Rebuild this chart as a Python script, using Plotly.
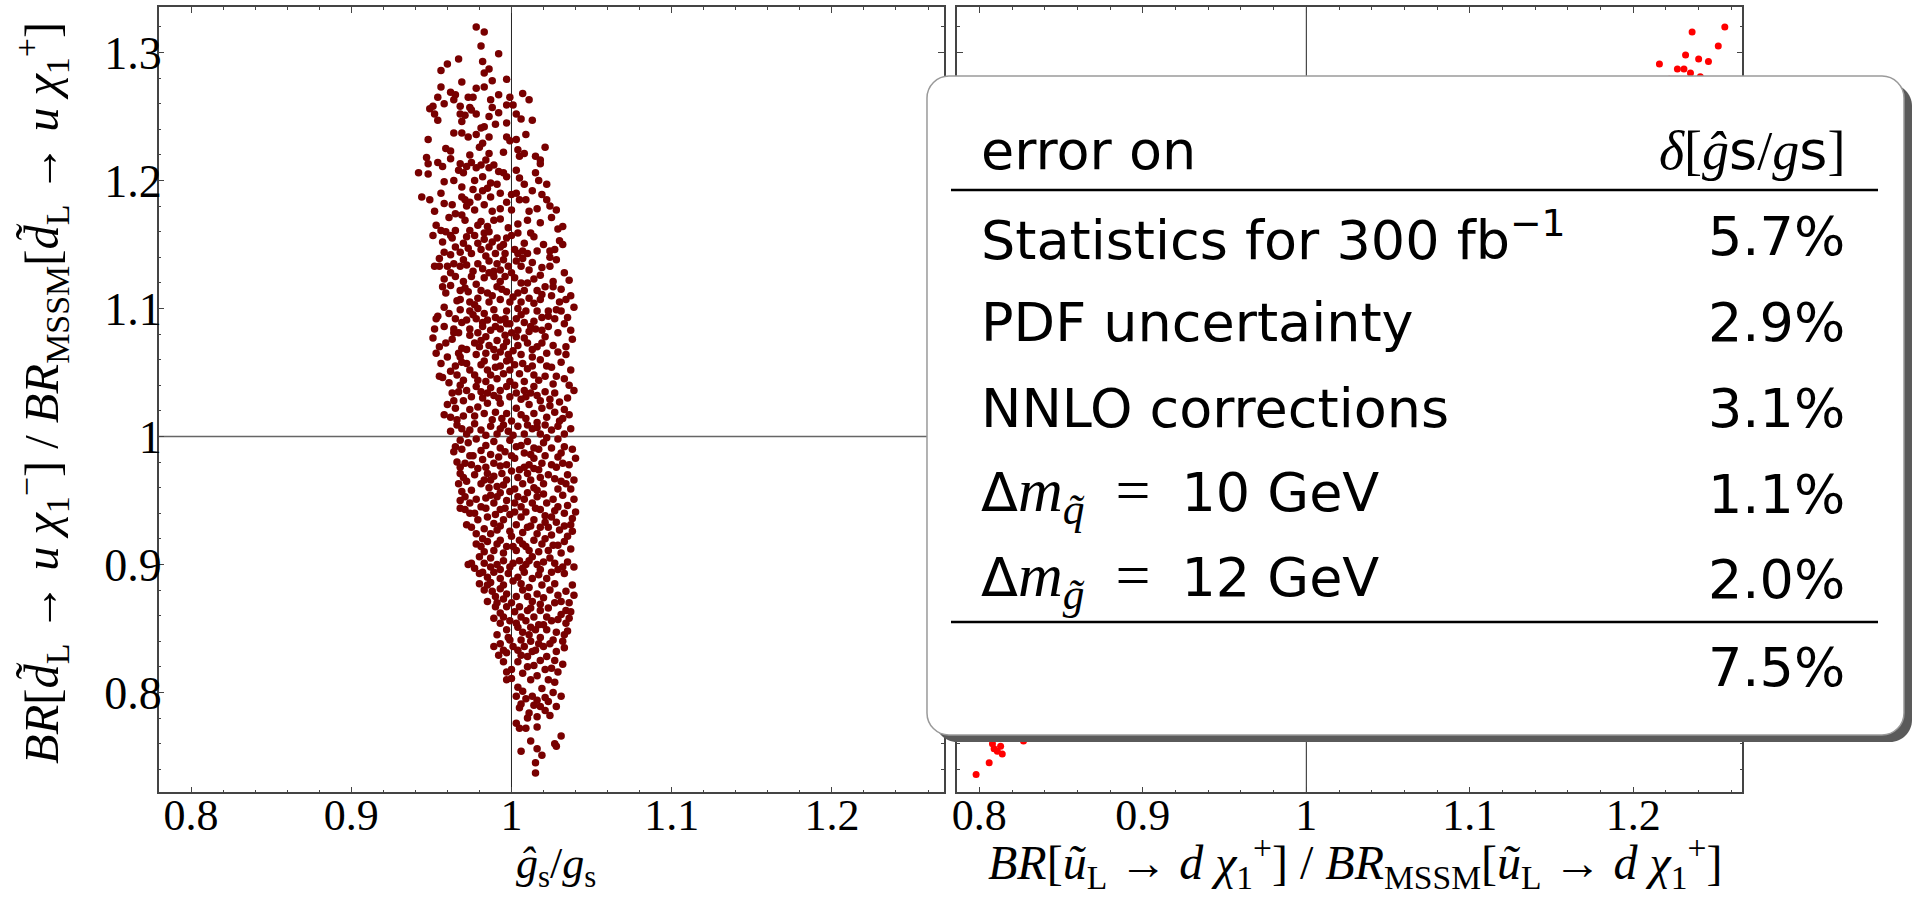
import plotly.graph_objects as go

W, H = 1919, 901

# ---------------- data ----------------
# left panel: (g_s-hat / g_s , BR ratio for d~_L)
left_points = [
 (0.978,1.320),(0.983,1.316),(0.981,1.305),(0.992,1.299),(0.967,1.295),(0.982,1.293),(0.960,1.291),(0.956,1.286),(0.986,1.287),(0.983,1.284),
 (0.969,1.277),(0.988,1.278),(0.997,1.279),(0.956,1.273),(0.978,1.272),(0.983,1.273),(0.962,1.269),(0.965,1.267),(0.973,1.265),(0.976,1.265),
 (0.954,1.265),(0.992,1.267),(0.999,1.265),(1.007,1.268),(1.011,1.263),(0.958,1.260),(0.964,1.263),(0.987,1.263),(0.949,1.256),(0.951,1.258),
 (0.968,1.258),(0.974,1.257),(0.988,1.257),(0.997,1.259),(1.001,1.259),(0.952,1.252),(0.954,1.247),(0.968,1.252),(0.969,1.246),(0.971,1.251),
 (0.975,1.255),(0.978,1.252),(0.986,1.250),(0.992,1.253),(1.003,1.252),(1.006,1.248),(1.013,1.247),(0.983,1.242),(0.981,1.241),(0.990,1.244),
 (0.997,1.245),(0.964,1.237),(0.969,1.237),(0.973,1.234),(0.978,1.236),(0.986,1.234),(0.997,1.234),(1.009,1.236),(1.003,1.232),(0.948,1.232),
 (0.959,1.225),(0.962,1.223),(0.999,1.231),(0.980,1.226),(0.982,1.229),(1.021,1.226),(1.004,1.224),(1.005,1.219),(1.008,1.221),(0.974,1.220),
 (0.986,1.221),(0.995,1.222),(1.015,1.219),(1.018,1.216),(1.018,1.213),(0.947,1.218),(0.948,1.213),(0.954,1.214),(0.957,1.211),(0.962,1.217),
 (0.968,1.213),(0.967,1.208),(0.970,1.206),(0.972,1.211),(0.975,1.214),(0.978,1.210),(0.981,1.212),(0.984,1.216),(0.986,1.210),(0.989,1.212),
 (0.992,1.207),(0.995,1.206),(0.997,1.203),(0.942,1.206),(0.948,1.205),(0.958,1.199),(0.964,1.200),(0.977,1.200),(0.982,1.203),(0.987,1.198),
 (1.003,1.208),(1.005,1.202),(1.015,1.206),(1.017,1.200),(1.022,1.197),(0.944,1.187),(0.949,1.185),(0.958,1.182),(0.969,1.195),(0.969,1.187),
 (0.971,1.185),(0.974,1.183),(0.972,1.180),(0.979,1.187),(0.982,1.192),(0.985,1.194),(0.987,1.187),(0.983,1.181),(0.993,1.190),(1.000,1.189),
 (1.003,1.190),(1.005,1.185),(1.009,1.185),(1.019,1.189),(1.022,1.185),(1.016,1.178),(1.028,1.177),(0.993,1.178),(1.000,1.177),(0.969,1.173),
 (0.965,1.174),(0.961,1.171),(0.971,1.169),(0.981,1.168),(0.979,1.165),(0.985,1.164),(0.989,1.169),(0.993,1.170),(0.998,1.163),(1.004,1.166),
 (1.010,1.169),(1.018,1.167),(1.029,1.162),(1.032,1.164),(0.953,1.165),(0.951,1.157),(0.956,1.161),(0.959,1.160),(0.962,1.157),(0.965,1.161),
 (0.974,1.161),(0.972,1.156),(0.983,1.159),(0.986,1.160),(0.983,1.154),(0.991,1.155),(0.993,1.148),(0.997,1.155),(1.004,1.159),(1.012,1.159),
 (1.030,1.153),(1.032,1.150),(0.958,1.144),(0.962,1.142),(0.965,1.148),(0.968,1.144),(0.973,1.147),(0.975,1.143),(0.979,1.151),(0.986,1.148),
 (0.990,1.143),(0.996,1.143),(1.002,1.146),(1.004,1.143),(1.007,1.145),(1.010,1.143),(1.016,1.145),(1.024,1.145),(1.024,1.140),
 (0.952,1.133),(0.955,1.133),(0.960,1.133),(0.964,1.135),(0.968,1.133),(0.972,1.134),(0.979,1.135),(0.982,1.131),(0.986,1.137),(0.991,1.135),
 (0.993,1.130),(0.998,1.133),(1.003,1.137),(1.006,1.133),(1.011,1.130),(1.018,1.126),(1.024,1.133),(0.965,1.125),(0.970,1.121),(0.975,1.125),
 (0.983,1.124),(0.989,1.125),(0.993,1.121),(1.002,1.124),(1.006,1.120),(1.010,1.120),(0.957,1.117),(0.959,1.112),(0.968,1.114),(0.973,1.113),
 (0.981,1.114),(0.985,1.112),(0.991,1.117),(0.997,1.113),(1.004,1.112),(1.008,1.114),(1.016,1.114),(1.021,1.117),(1.031,1.115),(1.036,1.122),
 (1.037,1.110),(1.025,1.110),(0.968,1.107),(0.974,1.105),(0.979,1.108),(0.986,1.105),(0.993,1.107),(0.999,1.105),(1.006,1.105),(1.014,1.104),
 (1.018,1.107),(1.030,1.105),(0.968,1.099),(0.974,1.098),(0.979,1.100),(0.983,1.096),(0.989,1.099),(0.997,1.098),(1.004,1.100),(1.009,1.098),
 (1.016,1.098),(1.023,1.098),(1.031,1.098),(0.953,1.092),(0.954,1.094),(0.965,1.092),(0.972,1.091),(0.978,1.092),(0.985,1.091),(0.993,1.091),
 (0.996,1.092),(1.003,1.092),(1.014,1.090),(1.023,1.094),(1.027,1.092),(0.964,1.084),(0.974,1.084),(0.982,1.086),(0.987,1.083),(0.993,1.084),
 (0.997,1.088),(1.004,1.083),(1.011,1.082),(1.015,1.084),(1.023,1.086),(1.037,1.083),(0.952,1.084),(0.951,1.077),(0.959,1.073),(0.964,1.081),
 (0.969,1.069),(0.974,1.079),(0.981,1.075),(0.980,1.070),(0.986,1.071),(0.991,1.075),(0.995,1.070),(0.997,1.074),(1.003,1.078),(1.004,1.071),
 (1.010,1.073),(1.016,1.070),(1.019,1.073),(1.022,1.065),(1.029,1.066),(1.034,1.070),(1.034,1.064),(0.953,1.065),(0.960,1.062),(0.968,1.062),
 (0.972,1.068),(0.978,1.064),(0.984,1.065),(0.990,1.062),(0.993,1.066),(0.998,1.064),(1.006,1.064),(1.013,1.062),(0.999,1.060),
 (0.955,1.047),(0.957,1.046),(0.965,1.055),(0.966,1.048),(0.972,1.057),(0.974,1.052),(0.981,1.056),(0.979,1.044),(0.985,1.052),(0.987,1.048),
 (0.993,1.055),(0.995,1.049),(0.999,1.052),(1.002,1.056),(1.005,1.049),(1.010,1.053),(1.014,1.048),(1.021,1.047),(1.028,1.047),(1.033,1.045),
 (1.022,1.055),(0.963,1.034),(0.967,1.035),(0.960,1.025),(0.958,1.017),(0.970,1.028),(0.972,1.036),(0.978,1.039),(0.981,1.035),(0.982,1.030),
 (0.987,1.038),(0.989,1.032),(0.993,1.036),(0.997,1.039),(1.002,1.040),(1.003,1.034),(1.008,1.036),(1.009,1.031),(1.014,1.039),(1.016,1.032),
 (1.021,1.035),(1.027,1.034),(1.030,1.027),(1.033,1.021),(1.032,1.014),(0.965,1.022),(0.966,1.013),(0.974,1.021),(0.979,1.023),(0.983,1.018),
 (0.985,1.026),(0.990,1.019),(0.993,1.026),(0.997,1.018),(1.003,1.022),(1.006,1.017),(1.011,1.025),(1.014,1.018),(1.019,1.022),(1.022,1.015),
 (1.027,1.019),(0.962,1.004),(0.969,1.006),(0.972,1.002),(0.977,1.010),(0.981,1.005),(0.987,1.008),(0.991,1.002),(0.995,1.009),(0.998,1.004),
 (1.004,1.008),(1.008,1.002),(1.013,1.006),(1.018,1.002),(1.025,1.005),(1.033,1.002),
 (0.965,0.992),(0.968,0.997),(0.973,0.995),(0.978,0.998),(0.984,0.993),(0.989,0.996),(0.993,0.991),(0.999,0.997),(1.003,0.992),(1.010,0.996),
 (1.014,0.991),(1.020,0.995),(1.029,0.998),(1.033,0.992),(1.022,0.999),
 (0.964,0.988),(0.968,0.976),(0.968,0.971),(0.971,0.979),(0.974,0.985),(0.979,0.975),(0.982,0.982),(0.985,0.971),(0.989,0.979),(0.992,0.984),
 (0.994,0.971),(0.997,0.978),(1.002,0.983),(1.005,0.974),(1.008,0.987),(1.011,0.978),(1.014,0.983),(1.017,0.974),(1.021,0.985),(1.025,0.978),
 (1.029,0.984),(1.032,0.979),(1.036,0.978),(1.034,0.963),(1.037,0.959),(0.967,0.963),(0.972,0.965),(0.981,0.963),(0.987,0.966),(0.991,0.961),
 (0.997,0.966),(1.002,0.959),(1.007,0.963),(1.012,0.966),(1.016,0.958),(1.020,0.963),(1.027,0.967),(1.029,0.959),
 (0.968,0.950),(0.968,0.944),(0.971,0.953),(0.974,0.948),(0.981,0.945),(0.984,0.952),(0.987,0.954),(0.989,0.948),(0.993,0.956),(0.993,0.943),
 (0.997,0.950),(0.999,0.939),(1.004,0.953),(1.006,0.945),(1.010,0.956),(1.013,0.948),(1.016,0.953),(1.018,0.943),(1.022,0.948),(1.025,0.937),
 (1.029,0.945),(1.033,0.940),(1.038,0.936),(1.037,0.931),(0.974,0.940),(0.972,0.931),(0.979,0.935),(0.985,0.937),(0.989,0.932),(0.991,0.927),
 (0.995,0.935),(1.003,0.931),(1.006,0.937),(1.010,0.929),(1.014,0.935),(1.018,0.929),(1.023,0.929),(1.025,0.923),(1.030,0.927),(1.035,0.922),
 (0.978,0.924),(0.982,0.920),
 (0.981,0.914),(0.985,0.918),(0.989,0.911),(0.993,0.919),(0.997,0.914),(1.000,0.922),(1.003,0.911),(1.007,0.916),(1.011,0.911),(1.014,0.919),
 (1.019,0.916),(1.023,0.911),(1.029,0.915),(1.033,0.918),(0.980,0.906),(0.983,0.901),(0.987,0.905),(0.991,0.900),(0.995,0.903),(0.999,0.898),
 (1.005,0.903),(1.009,0.900),(1.013,0.906),(1.016,0.900),(1.020,0.902),(1.027,0.901),(1.032,0.898),(0.973,0.900),(0.975,0.901),(0.980,0.893),
 (0.985,0.890),(0.989,0.894),(0.993,0.889),(0.998,0.893),(1.004,0.890),(1.008,0.894),(1.013,0.889),(1.017,0.892),(1.022,0.889),(1.025,0.894),
 (1.033,0.893),(1.038,0.884),(0.980,0.885),(0.985,0.884),
 (0.988,0.879),(0.990,0.875),(0.993,0.881),(0.997,0.877),(1.003,0.875),(1.007,0.880),(1.010,0.875),(1.013,0.871),(1.016,0.877),(1.020,0.874),
 (1.024,0.880),(1.027,0.870),(1.031,0.871),(1.034,0.864),(1.037,0.863),(0.990,0.867),(0.993,0.862),(0.997,0.867),(1.002,0.863),(1.006,0.859),
 (1.010,0.864),(1.014,0.859),(1.018,0.864),(1.022,0.859),(1.029,0.857),(1.034,0.854),(0.993,0.854),(0.997,0.849),(1.003,0.854),(1.007,0.847),
 (1.012,0.851),(1.017,0.853),(1.022,0.849),(1.028,0.847),(1.033,0.845),(1.032,0.840),
 (0.989,0.836),(0.993,0.838),(0.995,0.833),(0.999,0.841),(1.004,0.833),(1.008,0.836),(1.012,0.840),(1.015,0.833),(1.020,0.836),(1.024,0.838),
 (1.022,0.828),(1.027,0.825),(0.995,0.824),(0.997,0.831),(1.004,0.824),(1.010,0.828),(1.014,0.821),(1.018,0.825),(1.025,0.819),(1.029,0.816),
 (0.997,0.816),(1.000,0.818),(0.997,0.810),(1.012,0.810),(1.027,0.808),
 (1.004,0.804),(1.007,0.801),(1.009,0.795),(1.006,0.791),(1.005,0.788),(1.013,0.797),(1.016,0.794),(1.018,0.789),(1.014,0.790),(1.011,0.784),
 (1.016,0.781),(1.010,0.780),(1.021,0.786),(1.023,0.793),(1.028,0.789),(1.031,0.797),(1.024,0.782),(1.003,0.776),(1.005,0.772),(1.009,0.772),
 (1.016,0.773),(1.012,0.762),(1.016,0.756),(1.006,0.754),(1.019,0.751),(1.015,0.745),(1.015,0.737),(1.027,0.760),(1.028,0.758),(1.031,0.766),
 # denser core
 (0.952,1.176),(0.956,1.190),(0.963,1.181),(0.977,1.177),(0.988,1.176),(0.997,1.183),(1.011,1.176),(1.013,1.192),(1.025,1.171),(0.976,1.193),
 (0.991,1.197),(1.008,1.197),(1.024,1.180),
 (0.957,1.152),(0.963,1.155),(0.970,1.151),(0.977,1.157),(0.981,1.146),(0.988,1.152),(0.995,1.150),(1.000,1.157),(1.008,1.151),(1.014,1.156),
 (1.020,1.150),(1.027,1.146),(0.955,1.139),(0.962,1.128),(0.970,1.138),(0.976,1.129),(0.984,1.141),(0.989,1.129),(0.995,1.138),(1.000,1.128),
 (1.007,1.139),(1.013,1.136),(1.019,1.132),(1.028,1.138),(1.033,1.128),(0.958,1.123),(0.978,1.119),(0.996,1.125),(1.014,1.123),(1.026,1.121),
 (0.986,1.128),
 (0.962,1.118),(0.966,1.106),(0.971,1.116),(0.977,1.103),(0.988,1.110),(0.994,1.115),(1.001,1.109),(1.011,1.108),(1.019,1.111),(1.026,1.117),
 (1.034,1.107),(0.958,1.101),(0.961,1.096),(0.969,1.089),(0.976,1.095),(0.982,1.089),(0.990,1.093),(0.999,1.088),(1.006,1.095),(1.012,1.086),
 (1.019,1.093),(1.028,1.099),(1.035,1.093),(1.039,1.101),(0.958,1.086),(0.967,1.081),(0.979,1.081),(0.990,1.086),(1.000,1.081),(1.008,1.089),
 (1.019,1.083),(1.029,1.081),(1.033,1.088),
 (0.955,1.070),(0.963,1.076),(0.967,1.065),(0.977,1.073),(0.984,1.078),(0.989,1.068),(0.996,1.079),(1.001,1.067),(1.008,1.077),(1.013,1.068),
 (1.021,1.078),(1.026,1.071),(1.038,1.076),(0.956,1.057),(0.962,1.051),(0.969,1.058),(0.977,1.048),(0.983,1.059),(0.990,1.054),(0.997,1.059),
 (1.007,1.057),(1.013,1.055),(1.018,1.060),(1.025,1.054),(1.031,1.058),(1.037,1.052),(0.961,1.042),(0.970,1.044),(0.984,1.043),(0.991,1.045),
 (0.999,1.043),(1.008,1.043),(1.017,1.044),(1.026,1.041),(1.036,1.040),
 (0.964,1.028),(0.968,1.040),(0.975,1.031),(0.985,1.034),(0.992,1.030),(0.999,1.031),(1.006,1.029),(1.012,1.034),(1.018,1.028),(1.024,1.029),
 (1.035,1.030),(1.039,1.036),(0.962,1.015),(0.970,1.016),(0.977,1.016),(0.988,1.013),(0.994,1.014),(1.000,1.012),(1.009,1.014),(1.016,1.011),
 (1.024,1.024),(1.030,1.012),(1.036,1.017),(0.966,1.009),(0.974,1.005),(0.984,1.001),(0.993,1.006),(1.001,1.001),(1.010,1.009),(1.016,1.007),
 (1.021,1.009),(1.029,1.008),(1.037,1.006),
 (0.969,0.990),(0.976,0.985),(0.981,0.989),(0.987,0.986),(0.996,0.988),(1.000,0.985),(1.006,0.993),(1.012,0.986),(1.017,0.990),(1.025,0.991),
 (1.031,0.987),(1.038,0.990),(0.966,0.980),(0.975,0.978),(0.984,0.976),(0.993,0.977),(1.000,0.973),(1.008,0.976),(1.014,0.975),(1.019,0.979),
 (1.028,0.976),(1.035,0.970),(1.040,0.983),(0.970,0.968),(0.977,0.970),(0.983,0.966),(0.989,0.969),(0.995,0.962),(1.004,0.968),(1.010,0.971),
 (1.018,0.968),(1.023,0.970),(1.031,0.965),(1.039,0.966),
 (0.969,0.957),(0.975,0.958),(0.978,0.951),(0.986,0.960),(0.991,0.953),(0.999,0.957),(1.002,0.948),(1.008,0.951),(1.014,0.960),(1.020,0.955),
 (1.026,0.951),(1.032,0.954),(1.039,0.951),(0.971,0.943),(0.977,0.940),(0.984,0.944),(0.990,0.939),(0.996,0.944),(1.002,0.941),(1.009,0.941),
 (1.015,0.944),(1.021,0.938),(1.027,0.942),(1.035,0.946),(1.040,0.941),(0.975,0.929),(0.983,0.928),(0.987,0.924),(0.993,0.930),(0.999,0.926),
 (1.007,0.925),(1.012,0.930),(1.016,0.924),(1.021,0.933),(1.028,0.933),(1.033,0.930),(1.038,0.926),
 (0.978,0.916),(0.983,0.910),(0.991,0.916),(0.995,0.909),(1.001,0.914),(1.005,0.919),(1.009,0.914),(1.017,0.910),(1.021,0.920),(1.026,0.915),
 (1.031,0.909),(1.037,0.912),(0.977,0.897),(0.982,0.894),(0.987,0.898),(0.993,0.896),(1.001,0.901),(1.007,0.897),(1.011,0.903),(1.018,0.896),
 (1.024,0.905),(1.029,0.896),(1.035,0.902),(1.039,0.898),(0.983,0.880),(0.987,0.886),(0.995,0.884),(1.001,0.887),(1.006,0.885),(1.011,0.882),
 (1.019,0.884),(1.027,0.885),(1.034,0.879),
 (0.985,0.871),(0.991,0.870),(0.995,0.873),(1.000,0.870),(1.005,0.867),(1.012,0.866),(1.018,0.869),(1.023,0.866),(1.029,0.876),(1.036,0.870),
 (1.039,0.876),(0.989,0.858),(0.995,0.859),(0.999,0.856),(1.004,0.851),(1.009,0.856),(1.015,0.849),(1.020,0.853),(1.025,0.856),(1.031,0.861),
 (1.036,0.858),(0.991,0.845),(0.998,0.843),(1.006,0.841),(1.011,0.845),(1.018,0.843),(1.026,0.841),(1.035,0.848),
 (0.992,0.829),(1.001,0.836),(1.006,0.829),(1.013,0.832),(1.017,0.838),(1.028,0.832),(1.033,0.835),
 (1.000,0.811),(1.007,0.815),(1.010,0.820),(1.016,0.813),(1.021,0.818),(1.023,0.810),(1.032,0.822),
 (1.003,0.797),(1.019,0.803),(1.026,0.800),(1.021,0.796),
]

# right panel: (BR ratio for u~_L , BR ratio for d~_L) -- visible points
right_points = [
 (1.256,1.320),(1.236,1.316),(1.252,1.305),(1.232,1.298),(1.240,1.295),(1.246,1.293),(1.216,1.291),(1.227,1.287),(1.231,1.287),(1.235,1.284),
 (1.222,1.279),(1.241,1.281),
 (0.798,0.736),(0.806,0.745),(0.814,0.752),(0.811,0.754),(0.809,0.756),(0.813,0.758),(0.808,0.760),(0.827,0.762),
]

x_tick_vals = [0.8, 0.9, 1.0, 1.1, 1.2]
x_tick_text = ["0.8", "0.9", "1", "1.1", "1.2"]
y_tick_vals = [0.8, 0.9, 1.0, 1.1, 1.2, 1.3]
y_tick_text = ["0.8", "0.9", "1", "1.1", "1.2", "1.3"]

table_header = ["error on", "δ[ĝs/gs]"]
table_rows = ["Statistics for 300 fb<sup>−1</sup>", "PDF uncertainty", "NNLO corrections",
              "Δm_q = 10 GeV", "Δm_g = 12 GeV"]
table_values = ["5.7%", "2.9%", "3.1%", "1.1%", "2.0%"]
table_total = "7.5%"

# ---------------- helpers ----------------
def px(x):
    return x / W

def py(y):
    return 1 - y / H

SERIF = "Liberation Serif"
SANS = "DejaVu Sans"
EN = "\u2002"

def serif(s, size=None):
    st = "font-family:Liberation Serif"
    if size:
        st += ";font-size:%dpx" % size
    return "<span style='" + st + "'>" + s + "</span>"

fig = go.Figure()
fig.add_trace(go.Scatter(
    x=[p[0] for p in left_points], y=[p[1] for p in left_points],
    mode="markers", marker=dict(color="#780000", size=7.5, line=dict(width=0)),
    xaxis="x", yaxis="y", showlegend=False, hoverinfo="skip"))
fig.add_trace(go.Scatter(
    x=[p[0] for p in right_points], y=[p[1] for p in right_points],
    mode="markers", marker=dict(color="#ff0000", size=7, line=dict(width=0)),
    xaxis="x2", yaxis="y2", showlegend=False, hoverinfo="skip"))

AX = "#444444"
common = dict(showgrid=False, zeroline=False, showline=True, linecolor=AX, linewidth=1.5,
              mirror="ticks", ticks="inside", ticklen=6, tickwidth=1.2, tickcolor=AX,
              minor=dict(ticks="inside", ticklen=3, tickwidth=1, tickcolor=AX,
                         tickmode="linear", tick0=0.8, dtick=0.02),
              automargin=False, fixedrange=True)
XTF = dict(family=SERIF, size=44, color="black")
YTF = dict(family=SERIF, size=46, color="black")

dom_y = [py(792.3), py(7.3)]
fig.update_layout(
    xaxis=dict(domain=[px(158.7), px(943.7)], range=[0.7798, 1.2698], anchor="y",
               tickmode="array", tickvals=x_tick_vals, ticktext=x_tick_text,
               tickfont=XTF, ticklabelstandoff=-17, **common),
    yaxis=dict(domain=dom_y, range=[0.7220, 1.3353], anchor="x",
               tickmode="array", tickvals=y_tick_vals, ticktext=y_tick_text,
               tickfont=YTF, ticklabelstandoff=-14, **common),
    xaxis2=dict(domain=[px(957.3), px(1742.3)], range=[0.7865, 1.2667], anchor="y2",
                tickmode="array", tickvals=x_tick_vals, ticktext=x_tick_text,
                tickfont=XTF, ticklabelstandoff=-17, **common),
    yaxis2=dict(domain=dom_y, range=[0.7220, 1.3353], anchor="x2",
                tickmode="array", tickvals=y_tick_vals, showticklabels=False, **common),
    width=W, height=H, margin=dict(l=0, r=0, t=0, b=0),
    paper_bgcolor="white", plot_bgcolor="white",
)

shapes = []
# reference lines at 1
shapes.append(dict(type="line", xref="x", yref="y domain", x0=1, x1=1, y0=0, y1=1,
                   line=dict(color="#222", width=1), layer="below"))
shapes.append(dict(type="line", xref="x domain", yref="y", x0=0, x1=1, y0=1, y1=1,
                   line=dict(color="#666", width=1.5), layer="below"))
shapes.append(dict(type="line", xref="x2", yref="y2 domain", x0=1, x1=1, y0=0, y1=1,
                   line=dict(color="#222", width=1), layer="below"))
shapes.append(dict(type="line", xref="x2 domain", yref="y2", x0=0, x1=1, y0=1, y1=1,
                   line=dict(color="#666", width=1.5), layer="below"))

def rrect(x0, y0, x1, y1, r):
    k = 0.5523 * r
    def P(x, y):
        return f"{px(x):.5f},{py(y):.5f}"
    return ("M " + P(x0 + r, y0) + " L " + P(x1 - r, y0) +
            " C " + P(x1 - r + k, y0) + " " + P(x1, y0 + r - k) + " " + P(x1, y0 + r) +
            " L " + P(x1, y1 - r) +
            " C " + P(x1, y1 - r + k) + " " + P(x1 - r + k, y1) + " " + P(x1 - r, y1) +
            " L " + P(x0 + r, y1) +
            " C " + P(x0 + r - k, y1) + " " + P(x0, y1 - r + k) + " " + P(x0, y1 - r) +
            " L " + P(x0, y0 + r) +
            " C " + P(x0, y0 + r - k) + " " + P(x0 + r - k, y0) + " " + P(x0 + r, y0) + " Z")

BX0, BY0, BX1, BY1 = 927, 76, 1904, 735
shapes.append(dict(type="path", xref="paper", yref="paper", path=rrect(BX0 + 8, BY0 + 8, BX1 + 8, BY1 + 7, 22),
                   fillcolor="#5a5a5a", line=dict(width=0), layer="above"))
shapes.append(dict(type="path", xref="paper", yref="paper", path=rrect(BX0, BY0, BX1, BY1, 22),
                   fillcolor="white", line=dict(color="#9a9a9a", width=1.5), layer="above"))
for ly in (190, 622):
    shapes.append(dict(type="line", xref="paper", yref="paper", x0=px(951), x1=px(1878),
                       y0=py(ly), y1=py(ly), line=dict(color="black", width=2.5), layer="above"))
fig.update_layout(shapes=shapes)

ann = []
TF = dict(family=SANS, size=54, color="black")
LX, RX = 979, 1847
ann.append(dict(text=table_header[0], x=px(LX), y=py(150), xanchor="left", yanchor="middle", font=TF))
hdr = (serif("<i>δ</i>[<i>ĝ</i>") + "s" + serif("/<i>g</i>") + "s" + serif("]"))
ann.append(dict(text=hdr, x=px(RX), y=py(150), xanchor="right", yanchor="middle", font=TF))

row_y = [236, 322, 408, 494, 579]
row_html = [
    table_rows[0],
    table_rows[1],
    table_rows[2],
    "Δ" + serif("<i>m</i><sub><i>q̃</i></sub>" + EN + "=" + EN, 62) + "10 GeV",
    "Δ" + serif("<i>m</i><sub><i>g̃</i></sub>" + EN + "=" + EN, 62) + "12 GeV",
]
for yy, lab, val in zip(row_y, row_html, table_values):
    ann.append(dict(text=lab, x=px(LX), y=py(yy), xanchor="left", yanchor="middle", font=TF))
    ann.append(dict(text=val, x=px(RX), y=py(yy), xanchor="right", yanchor="middle", font=TF))
ann.append(dict(text=table_total, x=px(RX), y=py(667), xanchor="right", yanchor="middle", font=TF))

ytitle = ("<i>BR</i>[<i>d̃</i><sub>L</sub> → <i>u</i> <i>χ</i><sub>1</sub><sup>−</sup>] / "
          "<i>BR</i><sub>MSSM</sub>[<i>d̃</i><sub>L</sub> → <i>u</i> <i>χ</i><sub>1</sub><sup>+</sup>]")
ann.append(dict(text=ytitle, x=px(42), y=py(393), textangle=-90, xanchor="center", yanchor="middle",
                font=dict(family=SERIF, size=48.5, color="black")))
ann.append(dict(text="<i>ĝ</i><sub>s</sub>/<i>g</i><sub>s</sub>", x=px(556), y=py(866),
                xanchor="center", yanchor="middle", font=dict(family=SERIF, size=44, color="black")))
xtitle2 = ("<i>BR</i>[<i>ũ</i><sub>L</sub> → <i>d</i> <i>χ</i><sub>1</sub><sup>+</sup>] / "
           "<i>BR</i><sub>MSSM</sub>[<i>ũ</i><sub>L</sub> → <i>d</i> <i>χ</i><sub>1</sub><sup>+</sup>]")
ann.append(dict(text=xtitle2, x=px(1355), y=py(862), xanchor="center", yanchor="middle",
                font=dict(family=SERIF, size=48, color="black")))

for a in ann:
    a.update(xref="paper", yref="paper", showarrow=False)
fig.update_layout(annotations=ann)

fig.write_html("out.html", config={"displayModeBar": False},
               post_script="document.body.style.margin='0';document.body.style.overflow='hidden';")
